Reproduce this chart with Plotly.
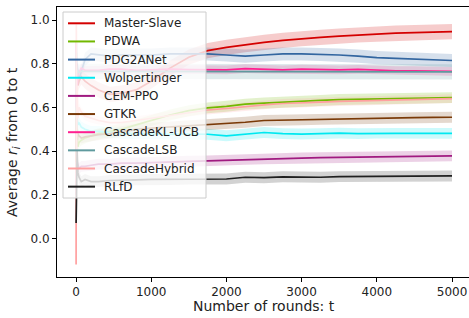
import plotly.graph_objects as go

t = [1, 4, 8, 15, 25, 40, 70, 120, 200, 300, 450, 600, 800, 1000, 1250, 1500,
     1750, 2000, 2250, 2500, 2750, 3000, 3250, 3500, 3750, 4000, 4250, 4500, 4750, 5000]

names = ["Master-Slave", "PDWA", "PDG2ANet", "Wolpertinger", "CEM-PPO", "GTKR",
         "CascadeKL-UCB", "CascadeLSB", "CascadeHybrid", "RLfD"]

master_slave = [0.50, 0.80, 0.70, 0.75, 0.70, 0.72, 0.74, 0.72, 0.70, 0.68, 0.66, 0.665, 0.68, 0.72, 0.78, 0.83,
                0.860, 0.875, 0.888, 0.898, 0.907, 0.915, 0.921, 0.927, 0.932, 0.936, 0.940, 0.943, 0.945, 0.947]
pdwa = [0.30, 0.60, 0.45, 0.50, 0.42, 0.44, 0.45, 0.46, 0.47, 0.48, 0.49, 0.50, 0.52, 0.54, 0.565, 0.585,
        0.598, 0.605, 0.615, 0.620, 0.625, 0.628, 0.632, 0.636, 0.638, 0.640, 0.641, 0.643, 0.644, 0.645]
pdg2anet = [0.60, 0.90, 0.70, 0.80, 0.75, 0.73, 0.76, 0.82, 0.845, 0.84, 0.835, 0.84, 0.84, 0.84, 0.845, 0.845,
            0.845, 0.840, 0.835, 0.840, 0.845, 0.845, 0.843, 0.840, 0.835, 0.828, 0.825, 0.822, 0.820, 0.815]
wolpertinger = [0.70, 0.45, 0.60, 0.55, 0.52, 0.53, 0.51, 0.50, 0.49, 0.49, 0.485, 0.48, 0.48, 0.478, 0.477, 0.478,
                0.477, 0.470, 0.478, 0.485, 0.480, 0.478, 0.480, 0.482, 0.480, 0.482, 0.481, 0.481, 0.482, 0.481]
cem_ppo = [0.20, 0.45, 0.30, 0.35, 0.33, 0.32, 0.33, 0.33, 0.335, 0.34, 0.34, 0.345, 0.345, 0.348, 0.35, 0.353,
           0.355, 0.358, 0.362, 0.365, 0.366, 0.368, 0.370, 0.371, 0.373, 0.374, 0.375, 0.376, 0.377, 0.378]
gtkr = [0.35, 0.55, 0.50, 0.45, 0.48, 0.47, 0.46, 0.465, 0.47, 0.475, 0.48, 0.49, 0.50, 0.505, 0.51, 0.518,
        0.523, 0.527, 0.532, 0.540, 0.542, 0.543, 0.545, 0.547, 0.549, 0.551, 0.552, 0.553, 0.554, 0.555]
kl_ucb = [0.90, 0.60, 0.80, 0.70, 0.75, 0.76, 0.78, 0.77, 0.77, 0.77, 0.775, 0.775, 0.77, 0.772, 0.775, 0.773,
          0.773, 0.772, 0.778, 0.775, 0.772, 0.775, 0.772, 0.772, 0.774, 0.770, 0.768, 0.768, 0.767, 0.765]
lsb = [0.70, 0.85, 0.78, 0.75, 0.77, 0.76, 0.765, 0.765, 0.765, 0.765, 0.765, 0.765, 0.765, 0.765, 0.765, 0.765,
       0.765, 0.765, 0.764, 0.764, 0.764, 0.764, 0.764, 0.764, 0.763, 0.763, 0.763, 0.763, 0.763, 0.763]
hybrid = [-0.12, 0.98, 0.40, 0.70, 0.55, 0.60, 0.58, 0.56, 0.55, 0.54, 0.53, 0.53, 0.54, 0.55, 0.565, 0.578,
          0.588, 0.595, 0.605, 0.612, 0.618, 0.620, 0.624, 0.628, 0.630, 0.632, 0.634, 0.636, 0.638, 0.640]
rlfd = [0.07, 0.18, 0.25, 0.40, 0.30, 0.28, 0.26, 0.27, 0.26, 0.26, 0.265, 0.265, 0.268, 0.27, 0.27, 0.272,
        0.273, 0.272, 0.280, 0.278, 0.282, 0.280, 0.280, 0.283, 0.284, 0.285, 0.285, 0.286, 0.286, 0.286]

series = [master_slave, pdwa, pdg2anet, wolpertinger, cem_ppo, gtkr, kl_ucb, lsb, hybrid, rlfd]
spreads = [0.035, 0.025, 0.030, 0.025, 0.025, 0.025, 0.020, 0.035, 0.020, 0.025]

colors = ["#d40000", "#72b800", "#3366a0", "#00e8f0", "#a01a80", "#7a3a08",
          "#ff2090", "#5f9a9e", "#ffa0a0", "#202020"]

W, H = 469, 318
ML, MR, MT, MB = 57, 0, 7, 41
PW, PH = W - ML - MR, H - MT - MB


def px(xp):
    return (xp - ML) / PW


def py(yp):
    return (H - MB - yp) / PH


def rgba(hexc, a):
    h = hexc.lstrip("#")
    r, g, b = int(h[0:2], 16), int(h[2:4], 16), int(h[4:6], 16)
    return f"rgba({r},{g},{b},{a})"


fig = go.Figure()
for name, ys, s, c in zip(names, series, spreads, colors):
    upper = [y + s for y in ys]
    lower = [y - s for y in ys]
    fig.add_trace(go.Scatter(x=t + t[::-1], y=upper + lower[::-1], fill="toself",
                             fillcolor=rgba(c, 0.2), line=dict(width=0),
                             hoverinfo="skip", showlegend=False))
for name, ys, c in zip(names, series, colors):
    fig.add_trace(go.Scatter(x=t, y=ys, mode="lines", name=name, showlegend=False,
                             line=dict(color=c, width=1.7)))

font = "DejaVu Sans"
shapes = []
annotations = []
shapes.append(dict(type="rect", xref="paper", yref="paper", layer="above",
                   x0=px(63), x1=px(206), y0=py(198), y1=py(12),
                   fillcolor="rgba(255,255,255,0.8)", line=dict(color="#cccccc", width=1)))
row0, rowh = 23.3, 18.15
for i, (name, c) in enumerate(zip(names, colors)):
    yy = row0 + i * rowh
    shapes.append(dict(type="line", xref="paper", yref="paper", layer="above",
                       x0=px(68), x1=px(95), y0=py(yy), y1=py(yy),
                       line=dict(color=c, width=2)))
    annotations.append(dict(text=name, xref="paper", yref="paper", x=px(102), y=py(yy),
                            xanchor="left", yanchor="middle", showarrow=False,
                            font=dict(family=font, size=12, color="#222")))
annotations.append(dict(text="Number of rounds: t", xref="paper", yref="paper",
                        x=px(264), y=py(306), xanchor="center", yanchor="middle", showarrow=False,
                        font=dict(family=font, size=14, color="#222")))
annotations.append(dict(text="Average <i>r</i><sub><i>i</i></sub> from 0 to t", xref="paper", yref="paper",
                        x=px(13), y=py(142), xanchor="center", yanchor="middle", showarrow=False,
                        textangle=-90, font=dict(family=font, size=14, color="#222")))

fig.update_layout(
    width=W, height=H,
    margin=dict(l=ML, r=MR, t=MT, b=MB),
    plot_bgcolor="white", paper_bgcolor="white",
    font=dict(family=font, size=12, color="#222"),
    showlegend=False,
    shapes=shapes, annotations=annotations,
    xaxis=dict(range=[-253, 5226], tickvals=[0, 1000, 2000, 3000, 4000, 5000],
               showgrid=False, zeroline=False, showline=True, linecolor="black", linewidth=1,
               mirror=True, ticks="outside", ticklen=4, tickcolor="black", automargin=False,
               tickfont=dict(family=font, size=12, color="#222")),
    yaxis=dict(range=[-0.177, 1.06], tickvals=[0.0, 0.2, 0.4, 0.6, 0.8, 1.0],
               tickformat=".1f", automargin=False,
               showgrid=False, zeroline=False, showline=True, linecolor="black", linewidth=1,
               ticks="outside", ticklen=4, tickcolor="black",
               tickfont=dict(family=font, size=12, color="#222")),
)

fig.write_html("out.html", config={"displayModeBar": False},
               post_script="document.body.style.margin='0';document.body.style.overflow='hidden';")
